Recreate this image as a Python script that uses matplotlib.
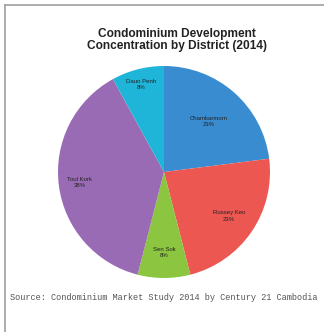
"""Condominium development concentration by district (2014), pie chart."""

import matplotlib.pyplot as plt
import numpy as np
from matplotlib.lines import Line2D

districts = ["Chamkarmorn", "Russey Keo", "Sen Sok", "Toul Kork", "Daun Penh"]
shares = [23, 23, 8, 38, 8]
colors = ["#3a8cd0", "#ec5752", "#8cc640", "#9a6bb5", "#1fb5d8"]
label_r = [0.64, 0.74, 0.76, 0.80, 0.85]

fig = plt.figure(figsize=(3.24, 3.32), dpi=100)
fig.patch.set_facecolor("white")

# partial grey frame (top + left), as in the source scan
fig.add_artist(Line2D([5 / 324, 1.0], [1 - 5 / 332, 1 - 5 / 332], color="#a0a0a0", lw=1.2))
fig.add_artist(Line2D([5 / 324, 5 / 324], [0.0, 1 - 5 / 332], color="#a0a0a0", lw=1.2))

fig.text(177 / 324, 1 - 40 / 332, "Condominium Development\nConcentration by District (2014)",
         ha="center", va="center", fontsize=8.6, fontweight="bold",
         family="Liberation Sans", color="#222222", linespacing=1.0)

ax = fig.add_axes([(164 - 106) / 324, (332 - 172 - 106) / 332, 212 / 324, 212 / 332])
wedges, texts = ax.pie(shares, colors=colors, startangle=90, counterclock=False,
                       wedgeprops=dict(linewidth=0))
ax.set_xlim(-1, 1)
ax.set_ylim(-1, 1)
ax.set_aspect("equal")

for w, name, pct, r in zip(wedges, districts, shares, label_r):
    ang = np.deg2rad((w.theta1 + w.theta2) / 2)
    ax.text(r * np.cos(ang), r * np.sin(ang), f"{name}\n{pct}%", ha="center", va="center",
            fontsize=4.3, family="Liberation Sans", color="#222222", linespacing=1.3)

fig.text(0.505, 1 - 297 / 332, "Source: Condominium Market Study 2014 by Century 21 Cambodia",
         ha="center", va="center", fontsize=6.2, family="Liberation Mono", color="#555555")

fig.savefig("out.png", dpi=100, facecolor="white")
